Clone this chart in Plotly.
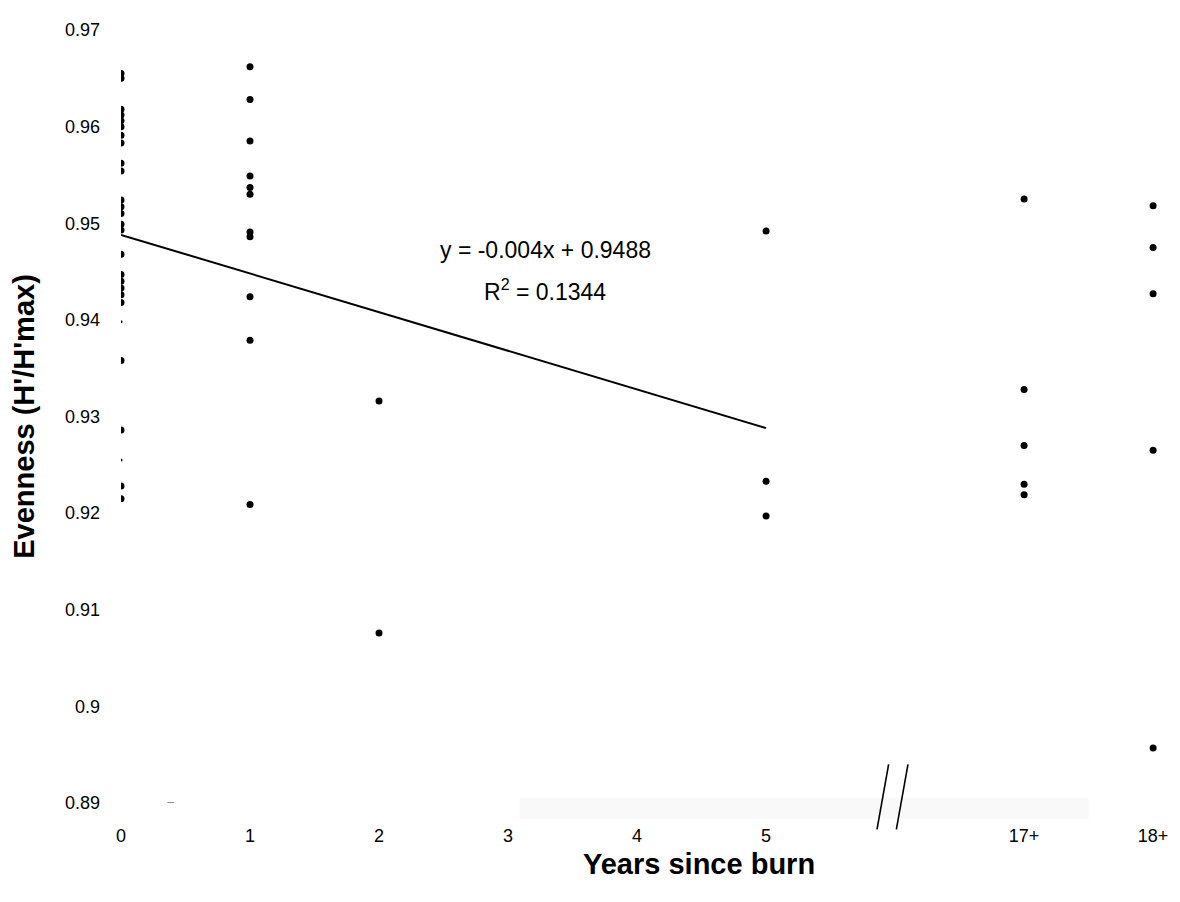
import plotly.graph_objects as go

# ---- data ----
tick_pos = [0, 1, 2, 3, 4, 5, 7, 8]
tick_text = ["0", "1", "2", "3", "4", "5", "17+", "18+"]
y_ticks = [0.89, 0.90, 0.91, 0.92, 0.93, 0.94, 0.95, 0.96, 0.97]
y_tick_text = ["0.89", "0.9", "0.91", "0.92", "0.93", "0.94", "0.95", "0.96", "0.97"]

even_0 = [0.9655, 0.9650, 0.9618, 0.9612, 0.9606, 0.9600, 0.9591, 0.9583,
          0.9562, 0.9554, 0.9524, 0.9517, 0.9510, 0.9499, 0.9493, 0.9468,
          0.9447, 0.9440, 0.9433, 0.9426, 0.9418, 0.9358, 0.9286, 0.9228, 0.9215]
even_0_faint = [0.9398, 0.9255]
even_1 = [0.9662, 0.9628, 0.9585, 0.9549, 0.9537, 0.9530, 0.9491, 0.9486,
          0.9424, 0.9379, 0.9209]
even_2 = [0.9316, 0.9076]
even_5 = [0.9492, 0.9233, 0.9197]
even_17 = [0.9525, 0.9328, 0.9270, 0.9230, 0.9219]
even_18 = [0.9518, 0.9475, 0.9427, 0.9265, 0.8957]

groups = [(0, even_0), (1, even_1), (2, even_2), (5, even_5), (7, even_17), (8, even_18)]

slope = -0.004
intercept = 0.9488
fit_x = [0, 5]
break_pos = 6

FONT = "Liberation Sans, Arial, sans-serif"

W, H = 1172, 894          # page body has an 8px margin
ML, MR, MT, MB = 113, 12, 12, 99
PW = W - ML - MR
PH = H - MT - MB

fig = go.Figure()

xs, ys = [], []
for gx, vals in groups:
    xs += [gx] * len(vals)
    ys += vals
fig.add_trace(go.Scatter(x=xs, y=ys, mode="markers",
                         marker=dict(color="black", size=7, symbol="circle"),
                         showlegend=False, hoverinfo="x+y"))
fig.add_trace(go.Scatter(x=[0] * len(even_0_faint), y=even_0_faint, mode="markers",
                         marker=dict(color="black", size=3), showlegend=False))

fig.add_trace(go.Scatter(x=fit_x, y=[intercept + slope * v for v in fit_x], mode="lines",
                         line=dict(color="black", width=2), showlegend=False,
                         hoverinfo="skip"))

# faint scanned baseline strip
fig.add_shape(type="rect", xref="x", yref="paper", x0=3.09, x1=7.5, y0=-0.02, y1=0.006,
              fillcolor="#f9f9f9", line=dict(width=0), layer="below")
# axis break marks
for off in (0.0, 0.15):
    fig.add_shape(type="line", xref="x", yref="paper",
                  x0=break_pos - 0.14 + off, x1=break_pos - 0.05 + off,
                  y0=-0.034, y1=0.05, line=dict(color="black", width=1.6))
# small dash near origin
fig.add_shape(type="line", xref="x", yref="y", x0=0.36, x1=0.41, y0=0.89, y1=0.89,
              line=dict(color="#444", width=1.2))

fig.add_annotation(x=3.29, y=0.9472, xref="x", yref="y", text="y = -0.004x + 0.9488",
                   showarrow=False, yanchor="middle",
                   font=dict(family=FONT, size=23, color="black"))
fig.add_annotation(x=3.29, y=0.9431, xref="x", yref="y", text="R<sup>2</sup> = 0.1344",
                   showarrow=False, yanchor="middle",
                   font=dict(family=FONT, size=23, color="black"))

fig.add_annotation(x=(700 - 8 - ML) / PW, y=-(865 - 8 - (MT + PH)) / PH,
                   xref="paper", yref="paper", text="<b>Years since burn</b>",
                   showarrow=False, xanchor="center", yanchor="middle",
                   font=dict(family=FONT, size=29, color="black"))

fig.update_layout(
    width=W, height=H,
    margin=dict(l=ML, r=MR, t=MT, b=MB),
    paper_bgcolor="white", plot_bgcolor="white",
    font=dict(family=FONT, color="black"),
    xaxis=dict(range=[0, 8.1], tickmode="array", tickvals=tick_pos, ticktext=tick_text,
               showgrid=False, zeroline=False, showline=False, ticks="",
               ticklabelstandoff=20, tickfont=dict(size=18, family=FONT)),
    yaxis=dict(range=[0.89, 0.97], tickmode="array", tickvals=y_ticks, ticktext=y_tick_text,
               showgrid=False, zeroline=False, showline=False, ticks="",
               ticklabelstandoff=20, tickfont=dict(size=18, family=FONT),
               title=dict(text="<b>Evenness (H'/H'max)</b>", font=dict(size=29, family=FONT),
                          standoff=22)),
)

fig.write_html("out.html")
